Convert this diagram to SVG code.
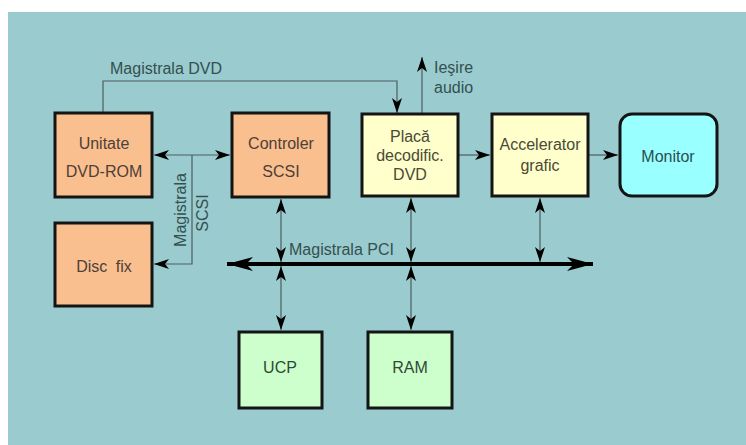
<svg xmlns="http://www.w3.org/2000/svg" width="746" height="445" viewBox="0 0 746 445">
<style>
.bg{fill:#ffffff}
.panel{fill:#9acbce}
.box{stroke:#141414;stroke-width:3}
.org{fill:#fabf8f}
.yel{fill:#ffffcc}
.grn{fill:#ccffcc}
.mon{fill:#99ffff}
text{font-family:"Liberation Sans",Arial,sans-serif;font-size:16px}
.t{text-anchor:middle}
.to{fill:#4d4038}
.ty{fill:#4a4a36}
.tg{fill:#2f4a34}
.tm{fill:#2a5052}
.lbl{fill:#34504f}
.thin{fill:none;stroke:#4e5d5e;stroke-width:1.2}
.bus{fill:none;stroke:#000;stroke-width:4}
</style>
<defs>
<marker id="ah" markerUnits="userSpaceOnUse" viewBox="0 0 15 10" refX="15" refY="5" markerWidth="15" markerHeight="10" orient="auto-start-reverse">
<path d="M0,0 L15,5 L0,10 L4,5 z" fill="#000"/>
</marker>
<marker id="bh" markerUnits="userSpaceOnUse" viewBox="0 0 26 14" refX="26" refY="7" markerWidth="26" markerHeight="14" orient="auto-start-reverse">
<path d="M0,0 L26,7 L0,14 L7,7 z" fill="#000"/>
</marker>
</defs>
<rect class="bg" x="0" y="0" width="746" height="445"/>
<rect class="panel" x="8" y="12" width="738" height="433"/>

<g id="connectors">
<path class="thin" d="M103,113 V81 H397 V113" marker-end="url(#ah)"/>
<path class="thin" d="M422,113 V57" marker-end="url(#ah)"/>
<path class="thin" d="M154,155 H230" marker-start="url(#ah)" marker-end="url(#ah)"/>
<path class="thin" d="M192,155 V264 H154" marker-end="url(#ah)"/>
<path class="thin" d="M281,199 V262" marker-start="url(#ah)" marker-end="url(#ah)"/>
<path class="thin" d="M411,198 V262" marker-start="url(#ah)" marker-end="url(#ah)"/>
<path class="thin" d="M540,198 V262" marker-start="url(#ah)" marker-end="url(#ah)"/>
<path class="thin" d="M281,266 V330" marker-start="url(#ah)" marker-end="url(#ah)"/>
<path class="thin" d="M411,266 V330" marker-start="url(#ah)" marker-end="url(#ah)"/>
<path class="thin" d="M459,155 H490" marker-end="url(#ah)"/>
<path class="thin" d="M589,155 H618" marker-end="url(#ah)"/>
<path class="bus" d="M227,264 H593" marker-start="url(#bh)" marker-end="url(#bh)"/>
<text class="lbl" x="110" y="74">Magistrala DVD</text>
<text class="lbl" x="434" y="73">Ieşire</text>
<text class="lbl" x="434" y="93">audio</text>
<text class="lbl" x="289" y="255">Magistrala PCI</text>
<text class="lbl t" transform="translate(186,210) rotate(-90)">Magistrala</text>
<text class="lbl t" transform="translate(208,213) rotate(-90)">SCSI</text>
</g>

<g id="dvdrom">
<rect class="box org" x="55" y="113" width="97" height="84"/>
<text class="t to" x="104" y="149">Unitate</text>
<text class="t to" x="104" y="177">DVD-ROM</text>
</g>
<g id="scsi">
<rect class="box org" x="232" y="113" width="97" height="84"/>
<text class="t to" x="281" y="149">Controler</text>
<text class="t to" x="281" y="177">SCSI</text>
</g>
<g id="decoder">
<rect class="box yel" x="362" y="114" width="96" height="82"/>
<text class="t ty" x="410" y="142">Placă</text>
<text class="t ty" x="410" y="161">decodific.</text>
<text class="t ty" x="410" y="180">DVD</text>
</g>
<g id="accelerator">
<rect class="box yel" x="492" y="114" width="96" height="82"/>
<text class="t ty" x="540" y="150">Accelerator</text>
<text class="t ty" x="540" y="171">grafic</text>
</g>
<g id="monitor">
<rect class="box mon" x="620" y="114" width="97" height="82" rx="12" ry="12"/>
<text class="t tm" x="668" y="162">Monitor</text>
</g>
<g id="disc">
<rect class="box org" x="55" y="223" width="97" height="83"/>
<text class="t to" x="104" y="272" style="word-spacing:4px">Disc fix</text>
</g>
<g id="ucp">
<rect class="box grn" x="239" y="332" width="83" height="76"/>
<text class="t tg" x="280" y="373">UCP</text>
</g>
<g id="ram">
<rect class="box grn" x="368" y="332" width="84" height="76"/>
<text class="t tg" x="410" y="373">RAM</text>
</g>
</svg>
